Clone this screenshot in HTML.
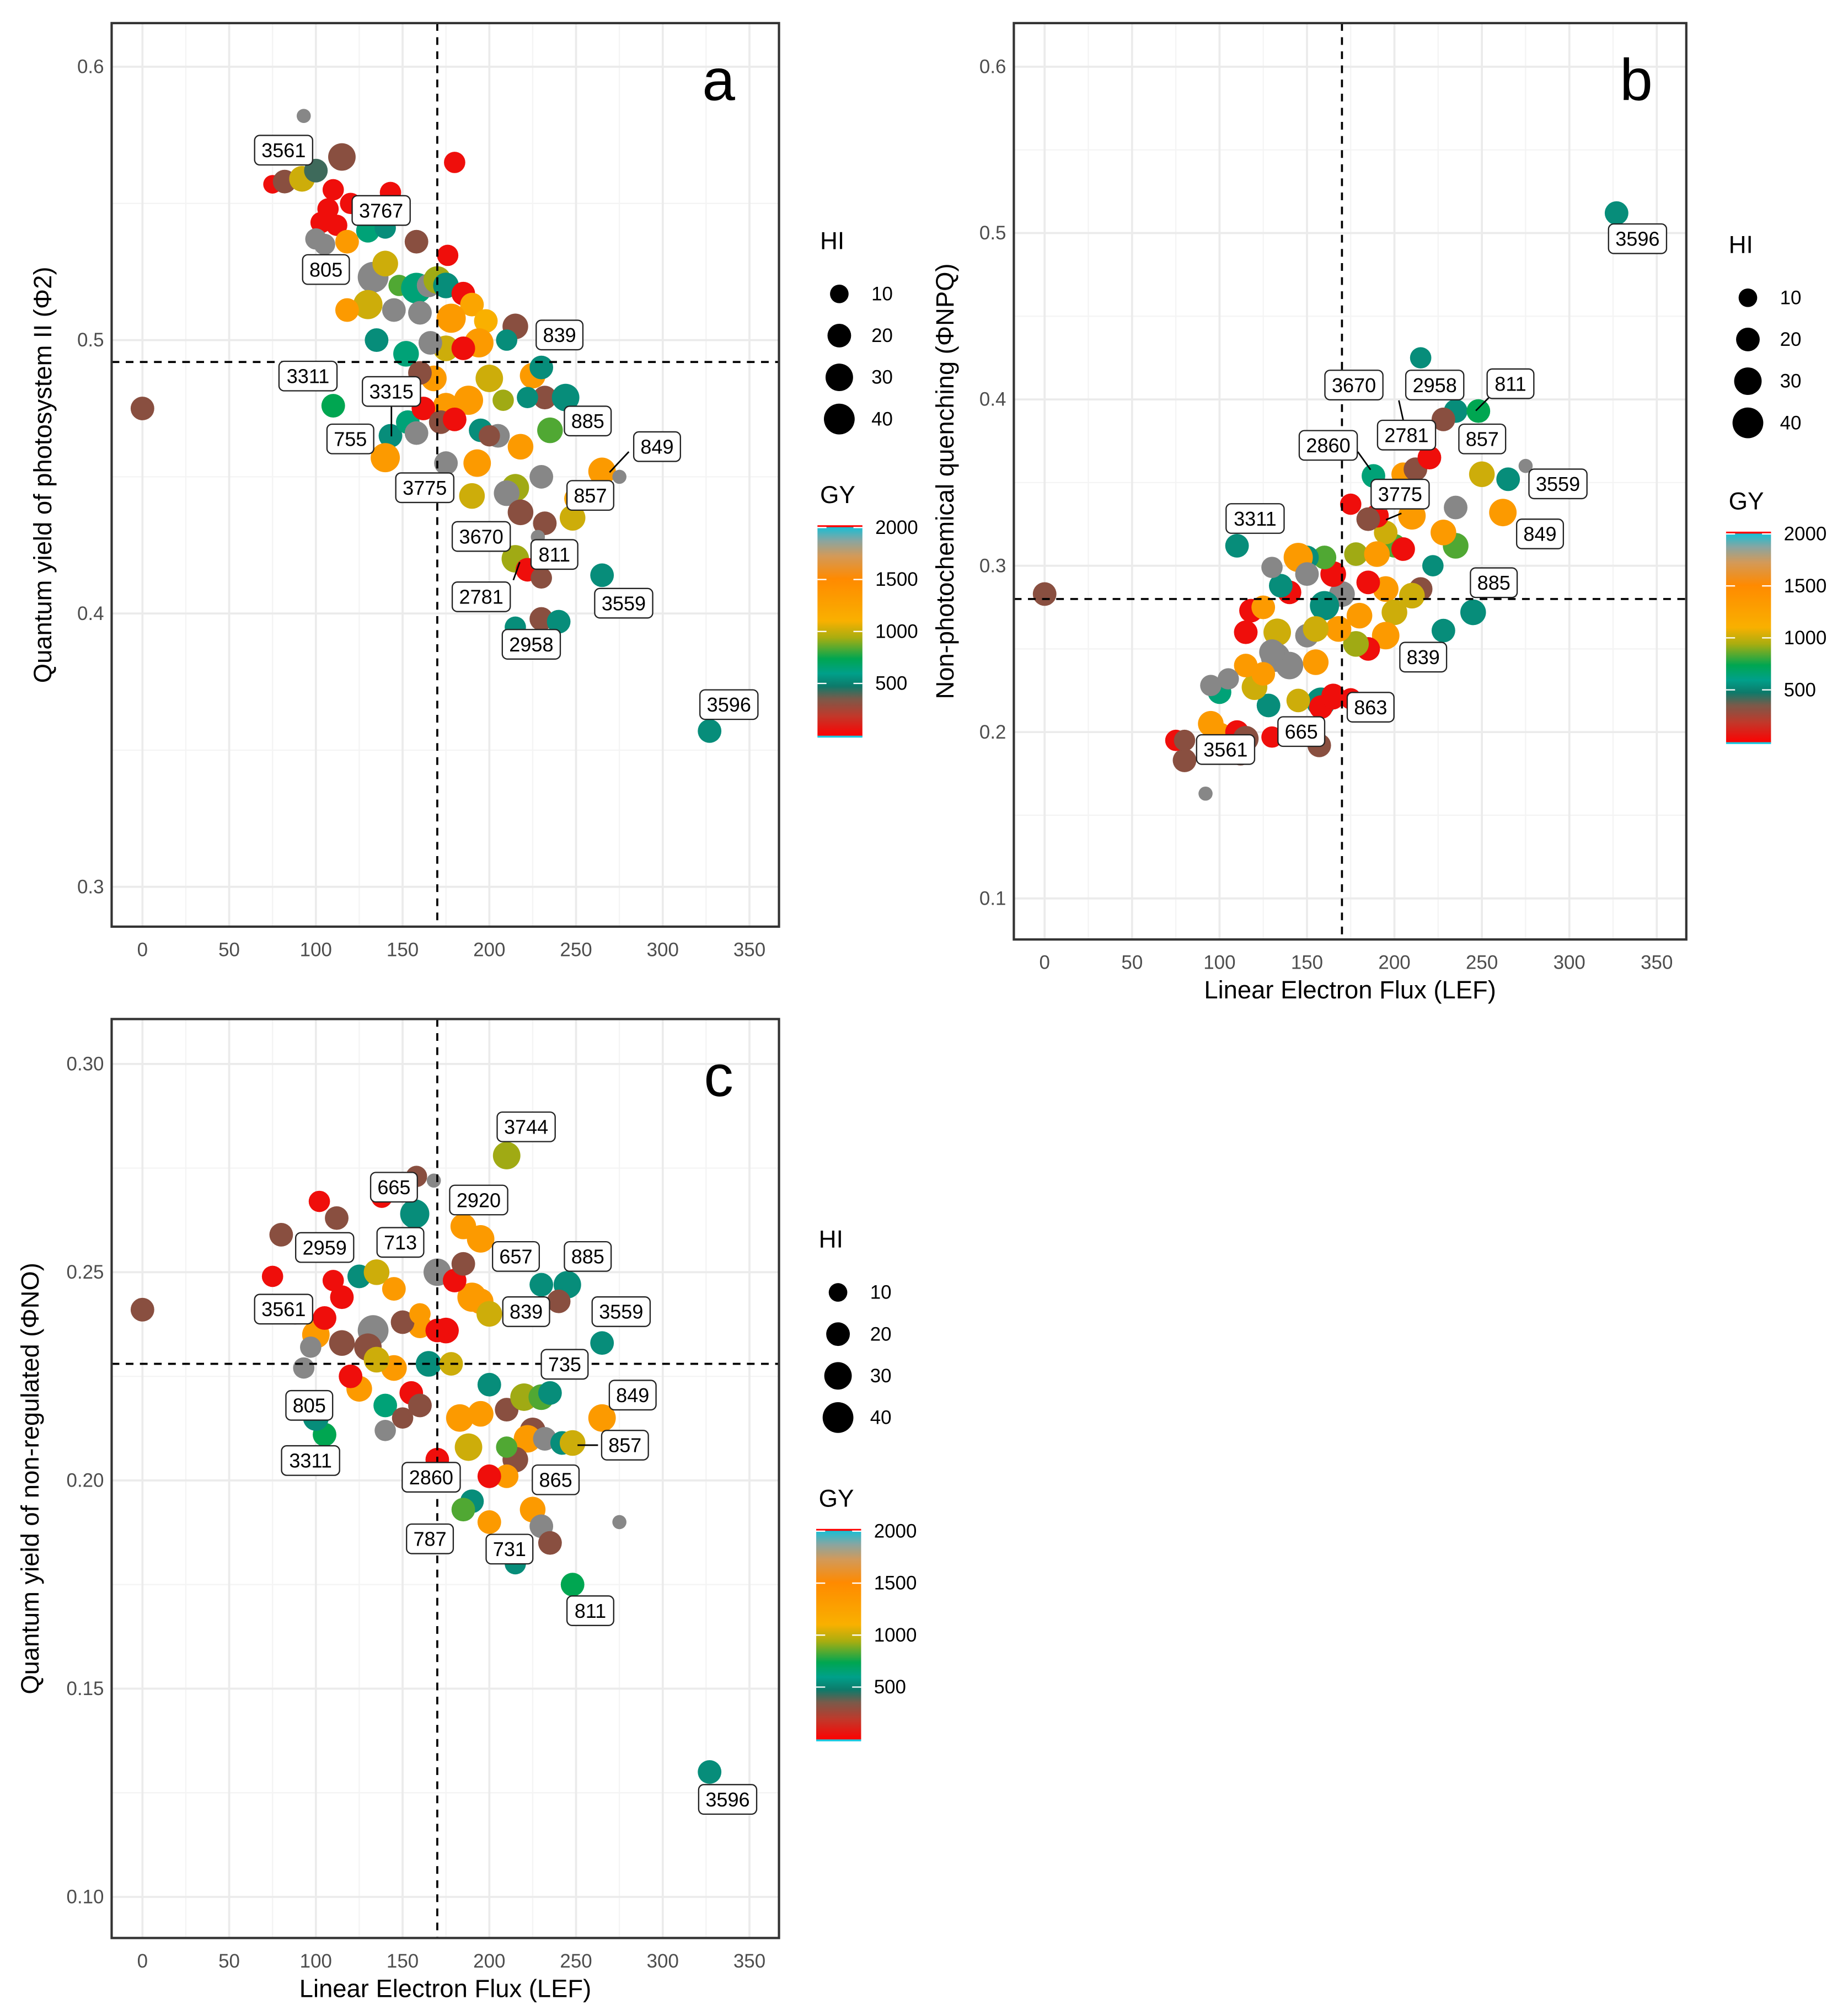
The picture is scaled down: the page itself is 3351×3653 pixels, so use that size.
<!DOCTYPE html>
<html><head><meta charset="utf-8"><style>
html,body{margin:0;padding:0;background:#fff;}
svg{display:block;font-family:"Liberation Sans",sans-serif;}
</style></head><body>
<svg id="fig" width="3351" height="3653" viewBox="0 0 1440 1570" preserveAspectRatio="none" xmlns="http://www.w3.org/2000/svg">
<defs>
<linearGradient id="gyGrad" x1="0" y1="1" x2="0" y2="0">
<stop offset="0" stop-color="#ff0000"/><stop offset="0.1" stop-color="#c0392b"/><stop offset="0.18" stop-color="#7a5a4a"/>
<stop offset="0.24" stop-color="#0d7a6a"/><stop offset="0.3" stop-color="#00a08a"/><stop offset="0.37" stop-color="#00a651"/>
<stop offset="0.47" stop-color="#a8ad10"/><stop offset="0.55" stop-color="#f9b000"/><stop offset="0.75" stop-color="#ff8a00"/>
<stop offset="0.86" stop-color="#d29a5a"/><stop offset="0.93" stop-color="#8aa5a0"/><stop offset="1" stop-color="#10c0d8"/>
</linearGradient>
</defs>
<g id="root"></g>
</svg>
<script>
// ---- Panel a data (LEF, Φ2, HI, GY) ----
const aLEF=[0,93,75,82,92,100,115,110,120,107,103,112,100,105,118,130,140,143,158,180,176,133,140,148,158,165,170,175,185,190,130,118,145,160,178,198,215,210,194,175,185,166,135,152,200,225,230,232,244,222,208,188,175,168,110,143,140,153,158,162,172,180,195,205,218,235,265,275,230,215,190,175,193,210,218,232,248,250,215,222,230,265,230,240,215,327,228,200,160];
const aY=[0.475,0.582,0.557,0.558,0.559,0.562,0.567,0.555,0.550,0.548,0.543,0.542,0.537,0.535,0.536,0.540,0.541,0.554,0.536,0.565,0.531,0.523,0.528,0.520,0.519,0.520,0.522,0.520,0.517,0.513,0.513,0.511,0.511,0.510,0.508,0.507,0.505,0.500,0.499,0.497,0.497,0.499,0.500,0.495,0.486,0.487,0.490,0.479,0.479,0.479,0.478,0.478,0.476,0.486,0.476,0.465,0.457,0.470,0.466,0.475,0.470,0.471,0.467,0.465,0.461,0.467,0.452,0.450,0.450,0.446,0.443,0.455,0.455,0.444,0.437,0.433,0.435,0.442,0.420,0.416,0.413,0.414,0.398,0.397,0.395,0.357,0.428,0.465,0.488];
const aHI=[20,4,10,20,25,20,30,15,15,15,15,15,15,15,20,20,15,15,20,15,15,40,25,15,40,20,30,25,20,20,35,20,20,20,35,20,25,15,35,25,20,20,20,25,30,25,20,20,30,15,15,35,25,25,20,20,35,20,20,20,20,20,20,20,25,25,30,4,20,30,25,20,30,25,25,20,25,20,30,20,15,20,20,20,15,20,4,15,20];
const aGY=[300,1800,50,300,1000,400,300,50,50,50,50,50,1800,1800,1300,600,500,50,300,50,50,1800,1000,800,600,1800,900,500,50,1200,1000,1300,1800,1800,1300,1100,300,500,1300,1000,50,1800,500,600,1000,1300,500,300,500,500,900,1300,1300,1300,700,500,1300,600,1800,50,300,50,500,1800,1300,800,1300,1800,1800,900,1000,1800,1300,1800,300,300,1000,1200,900,50,300,500,300,500,500,500,1800,300,300];
const aLabels=["3561","3767","805","839","3311","3315","885","755","849","3775","857","3670","811","2781","3559","2958","3596"];
const aLabX=[221,297,254,436,240,305,458,273,512,331,460,375,432,375,486,414,568];
const aLabY=[117,164,210,261,293,305,328,342,348,380,386,418,432,465,470,502,549];

// ---- Panel b data (LEF, ΦNPQ, HI, GY) ----
const bLEF=[0,327,215,235,248,228,275,265,250,235,262,235,228,245,228,222,215,200,195,210,205,190,188,205,212,220,195,185,175,178,190,195,200,210,195,185,178,168,170,160,165,160,150,145,140,135,130,110,133,132,140,130,150,155,155,158,165,145,128,120,115,115,118,125,100,105,95,95,100,110,115,112,80,75,80,92,130,157,158,165,175,125,185,150,180];
const bY=[0.283,0.512,0.425,0.393,0.393,0.388,0.36,0.352,0.355,0.335,0.332,0.312,0.320,0.272,0.261,0.300,0.286,0.312,0.320,0.330,0.310,0.330,0.354,0.355,0.358,0.365,0.340,0.328,0.337,0.307,0.307,0.286,0.272,0.282,0.258,0.250,0.253,0.262,0.283,0.276,0.295,0.305,0.305,0.305,0.284,0.288,0.299,0.312,0.260,0.245,0.240,0.248,0.258,0.262,0.242,0.218,0.222,0.219,0.216,0.227,0.240,0.260,0.273,0.275,0.224,0.232,0.228,0.205,0.198,0.200,0.196,0.187,0.183,0.195,0.195,0.163,0.197,0.192,0.215,0.220,0.220,0.235,0.290,0.295,0.270];
const bHI=[20,20,15,20,20,20,4,20,25,20,30,25,25,25,20,15,20,20,20,30,20,20,20,20,20,20,15,20,15,20,25,25,25,25,30,20,25,25,25,35,25,20,20,35,20,20,15,20,30,35,30,25,20,25,25,35,20,20,20,25,20,20,20,20,20,15,15,25,25,20,25,20,20,15,15,4,15,20,20,15,15,20,20,20,25];
const bGY=[300,500,500,500,700,300,1800,500,1000,1800,1300,800,1300,500,500,500,300,800,1000,1300,50,50,600,1300,300,50,1800,300,50,900,1300,1300,1000,1000,1300,50,900,1300,1800,500,50,800,500,1300,50,500,1800,500,1000,1800,1800,1800,1800,1000,1300,500,50,1000,500,1000,1300,50,50,1300,600,1800,1800,1300,1300,50,300,300,300,50,300,1800,50,300,50,50,50,1300,50,1800,1300];
const bLabels=["3596","3670","2958","811","2781","857","2860","3559","3775","849","3311","885","839","863","665","3561"];
const bLabX=[1276,1055,1118,1177,1096,1155,1035,1214,1091,1200,978,1164,1109,1068,1014,955];
const bLabY=[186,300,300,299,339,342,347,377,385,416,404,454,512,551,570,584];

// ---- Panel c data (LEF, ΦNO, HI, GY) ----
const cLEF=[0,327,210,158,168,157,138,102,112,80,75,185,195,170,190,180,185,245,230,240,265,195,175,200,160,150,133,130,115,100,105,115,110,125,135,145,145,135,125,120,140,155,160,165,170,178,183,195,200,210,220,230,235,225,222,232,242,248,265,215,188,210,210,200,190,185,200,225,230,235,215,248,275,105,100,93,97,170,175,140,150,88,160];
const cY=[0.241,0.130,0.278,0.273,0.272,0.264,0.268,0.267,0.263,0.259,0.249,0.261,0.258,0.250,0.244,0.248,0.252,0.247,0.247,0.243,0.233,0.243,0.236,0.240,0.237,0.238,0.236,0.232,0.233,0.235,0.239,0.244,0.248,0.249,0.250,0.246,0.227,0.229,0.222,0.225,0.218,0.221,0.218,0.228,0.236,0.228,0.215,0.216,0.223,0.217,0.220,0.220,0.221,0.212,0.210,0.210,0.209,0.209,0.215,0.205,0.208,0.208,0.201,0.201,0.195,0.193,0.190,0.193,0.189,0.185,0.180,0.175,0.190,0.211,0.215,0.227,0.232,0.205,0.200,0.212,0.215,0.240,0.240];
const cHI=[20,20,30,15,4,35,15,15,20,20,15,25,30,30,35,20,20,30,20,20,20,25,25,25,20,20,40,30,25,30,20,20,15,20,25,20,25,25,25,20,20,20,20,25,20,20,30,25,20,20,30,25,20,25,30,20,20,25,30,25,30,15,20,20,20,20,20,25,20,20,15,20,4,20,25,15,15,20,15,15,15,15,15];
const cGY=[300,500,900,300,1800,500,50,50,300,300,50,1300,1300,1800,1300,50,300,500,500,300,500,1300,50,1000,1300,300,1800,300,300,1300,50,50,50,500,1000,1300,1300,1000,1300,50,600,50,300,500,50,1000,1300,1300,500,300,900,800,500,300,1300,1800,500,1000,1300,300,1000,800,1300,50,500,800,1300,1300,1800,300,500,700,1800,700,500,1800,1800,50,1800,1800,300,300,1300];
const cLabels=["3744","665","2920","2959","713","657","885","839","3561","3559","735","849","805","857","3311","2860","865","787","731","811","3596"];
const cLabX=[410,307,373,253,312,402,458,410,221,484,440,493,241,487,242,336,433,335,397,460,567];
const cLabY=[878,925,935,972,968,979,979,1022,1020,1022,1063,1087,1095,1126,1138,1151,1153,1199,1207,1255,1402];

const xTicks=[0,50,100,150,200,250,300,350];
const aYTicks=[0.3,0.4,0.5,0.6];
const bYTicks=[0.1,0.2,0.3,0.4,0.5,0.6];
const cYTicks=[0.10,0.15,0.20,0.25,0.30];
const hiLegend=[10,20,30,40];
const gyLegend=[500,1000,1500,2000];

const NS="http://www.w3.org/2000/svg";
const root=document.getElementById('root');
function mk(tag,attrs,parent){const e=document.createElementNS(NS,tag);for(const k in attrs)e.setAttribute(k,attrs[k]);(parent||root).appendChild(e);return e;}
const stops=[[0,[255,0,0]],[200,[192,57,43]],[350,[110,90,75]],[450,[13,122,106]],[550,[0,160,138]],[700,[0,166,81]],[900,[160,170,20]],[1100,[249,176,0]],[1450,[255,138,0]],[1700,[210,154,90]],[1800,[135,135,135]],[2000,[16,192,216]]];
function gyColor(v){for(let i=1;i<stops.length;i++){if(v<=stops[i][0]){const a=stops[i-1],b=stops[i],t=(v-a[0])/(b[0]-a[0]);const c=a[1].map((x,j)=>Math.round(x+(b[1][j]-x)*t));return `rgb(${c})`;}}return 'rgb(16,192,216)';}
function rHI(h){return 2.5+1.5*Math.sqrt(h);}

// leader segments (screen space, decorative connectors)
const leaders=[[490,352,475,368],[305,316,305,340],[400,452,405,438],[1090,312,1094,330],[1160,310,1150,320],[1058,352,1068,366],[466,1126,450,1126],[1092,400,1080,405]];

function panel(cfg){
  const g=mk('g',{});
  
  
  const X=v=>cfg.x0+(v-0)*(cfg.x350-cfg.x0)/350;
  const Y=v=>cfg.yA+(v-cfg.vA)*(cfg.yB-cfg.yA)/(cfg.vB-cfg.vA);
  mk('rect',{x:cfg.L,y:cfg.T,width:cfg.R-cfg.L,height:cfg.B-cfg.T,fill:'#fff'},g);
  for(let i=0;i<xTicks.length-1;i++){const xv=(xTicks[i]+xTicks[i+1])/2;mk('line',{x1:X(xv),x2:X(xv),y1:cfg.T,y2:cfg.B,stroke:'#f4f4f4','stroke-width':1},g);}
  for(let i=0;i<cfg.yt.length-1;i++){const yv=(cfg.yt[i]+cfg.yt[i+1])/2;mk('line',{x1:cfg.L,x2:cfg.R,y1:Y(yv),y2:Y(yv),stroke:'#f4f4f4','stroke-width':1},g);}
  xTicks.forEach(t=>{mk('line',{x1:X(t),x2:X(t),y1:cfg.T,y2:cfg.B,stroke:'#ebebeb','stroke-width':1.6},g);
    const tl=mk('text',{x:X(t),y:cfg.B+23,'text-anchor':'middle','font-size':15,fill:'#4d4d4d'},g);tl.textContent=t;
    });
  cfg.yt.forEach(t=>{mk('line',{x1:cfg.L,x2:cfg.R,y1:Y(t),y2:Y(t),stroke:'#ebebeb','stroke-width':1.6},g);
    const tl=mk('text',{x:cfg.L-6,y:Y(t)+5,'text-anchor':'end','font-size':15,fill:'#4d4d4d'},g);tl.textContent=cfg.fmt(t);
    });
  for(let i=0;i<cfg.lef.length;i++){
    const c=mk('circle',{cx:X(cfg.lef[i]),cy:Y(cfg.y[i]),r:rHI(cfg.hi[i]),fill:gyColor(cfg.gy[i])},g);
    
    
  }
  const vx=mk('line',{x1:X(cfg.vline),x2:X(cfg.vline),y1:cfg.T,y2:cfg.B,stroke:'#000','stroke-width':1.6,'stroke-dasharray':'6,5'},g);
  
  const hy=mk('line',{x1:cfg.L,x2:cfg.R,y1:Y(cfg.hline),y2:Y(cfg.hline),stroke:'#000','stroke-width':1.6,'stroke-dasharray':'6,5'},g);
  
  leaders.forEach(l=>{if(l[0]>cfg.L&&l[0]<cfg.R&&l[1]>cfg.T&&l[1]<cfg.B){mk('line',{x1:l[0],y1:l[1],x2:l[2],y2:l[3],stroke:'#000','stroke-width':1.2},g);}});
  for(let i=0;i<cfg.labs.length;i++){
    const w=cfg.labs[i].length*8.8+10;
    const lg=mk('g',{},g);
    
    
    mk('rect',{x:cfg.lx[i]-w/2,y:cfg.ly[i]-11.5,width:w,height:23,rx:4,fill:'#fff',stroke:'#222','stroke-width':1},lg);
    const t=mk('text',{x:cfg.lx[i],y:cfg.ly[i]+5.5,'text-anchor':'middle','font-size':15.5,fill:'#000'},lg);t.textContent=cfg.labs[i];
  }
  mk('rect',{x:cfg.L,y:cfg.T,width:cfg.R-cfg.L,height:cfg.B-cfg.T,fill:'none',stroke:'#333','stroke-width':1.8},g);
  const letter=mk('text',{x:cfg.letX,y:cfg.T+60,'text-anchor':'middle','font-size':46,fill:'#000'},g);letter.textContent=cfg.letter;
  
  if(cfg.xtitle){const t=mk('text',{x:(cfg.L+cfg.R)/2,y:cfg.B+46,'text-anchor':'middle','font-size':19.5,fill:'#000'},g);t.textContent='Linear Electron Flux (LEF)';
    }
  const yt=mk('text',{x:0,y:0,'text-anchor':'middle','font-size':19.5,fill:'#000',transform:`translate(${cfg.ytx},${(cfg.T+cfg.B)/2}) rotate(-90)`},g);yt.textContent=cfg.ytitle;
  
  const lgd=mk('g',{},g);
  
  
  const h=mk('text',{x:cfg.legX,y:cfg.hiY,'font-size':19,fill:'#000'},lgd);h.textContent='HI';
  hiLegend.forEach((v,i)=>{const cy=cfg.hiY+35+i*32.5;
    const c=mk('circle',{cx:cfg.legX+15,cy:cy,r:rHI(v),fill:'#000'},lgd);
    
    const t=mk('text',{x:cfg.legX+40,y:cy+5,'font-size':15,fill:'#000'},lgd);t.textContent=v;});
  const gt=mk('text',{x:cfg.legX,y:cfg.gyY,'font-size':19,fill:'#000'},lgd);gt.textContent='GY';
  const bt=cfg.gyY+18,bh=164;
  const bar=mk('rect',{x:cfg.legX-2,y:bt,width:35,height:bh,fill:'url(#gyGrad)'},lgd);
  
  mk('line',{x1:cfg.legX-2,x2:cfg.legX+33,y1:bt,y2:bt,stroke:'#f00','stroke-width':1.5},lgd);
  mk('line',{x1:cfg.legX-2,x2:cfg.legX+33,y1:bt+bh,y2:bt+bh,stroke:'#1cc8e0','stroke-width':1.5},lgd);
  gyLegend.forEach(v=>{const yy=bt+bh-(v/2000)*(bh-2)-1;
    mk('line',{x1:cfg.legX-2,x2:cfg.legX+5,y1:yy,y2:yy,stroke:'#fff','stroke-width':1},lgd);
    mk('line',{x1:cfg.legX+26,x2:cfg.legX+33,y1:yy,y2:yy,stroke:'#fff','stroke-width':1},lgd);
    const t=mk('text',{x:cfg.legX+43,y:yy+5,'font-size':15,fill:'#000'},lgd);t.textContent=v;});
}

panel({name:'panel-a',L:87,R:607,T:18,B:722,x0:111,x350:584,yA:52,vA:0.6,yB:691,vB:0.3,yt:aYTicks,fmt:v=>v.toFixed(1),
  lef:aLEF,y:aY,hi:aHI,gy:aGY,labs:aLabels,lx:aLabX,ly:aLabY,vline:170,hline:0.492,letter:'a',letX:560,xtitle:false,
  ytx:40,ytitle:'Quantum yield of photosystem II (Φ2)',legX:639,hiY:194,gyY:392});
panel({name:'panel-b',L:790,R:1314,T:18,B:732,x0:814,x350:1291,yA:52,vA:0.6,yB:700,vB:0.1,yt:bYTicks,fmt:v=>v.toFixed(1),
  lef:bLEF,y:bY,hi:bHI,gy:bGY,labs:bLabels,lx:bLabX,ly:bLabY,vline:170,hline:0.28,letter:'b',letX:1275,xtitle:true,
  ytx:743,ytitle:'Non-photochemical quenching (ΦNPQ)',legX:1347,hiY:197,gyY:397});
panel({name:'panel-c',L:87,R:607,T:794,B:1510,x0:111,x350:584,yA:829,vA:0.30,yB:1478,vB:0.10,yt:cYTicks,fmt:v=>v.toFixed(2),
  lef:cLEF,y:cY,hi:cHI,gy:cGY,labs:cLabels,lx:cLabX,ly:cLabY,vline:170,hline:0.228,letter:'c',letX:560,xtitle:true,
  ytx:30,ytitle:'Quantum yield of non-regulated (ΦNO)',legX:638,hiY:972,gyY:1174});
</script>
</body></html>
